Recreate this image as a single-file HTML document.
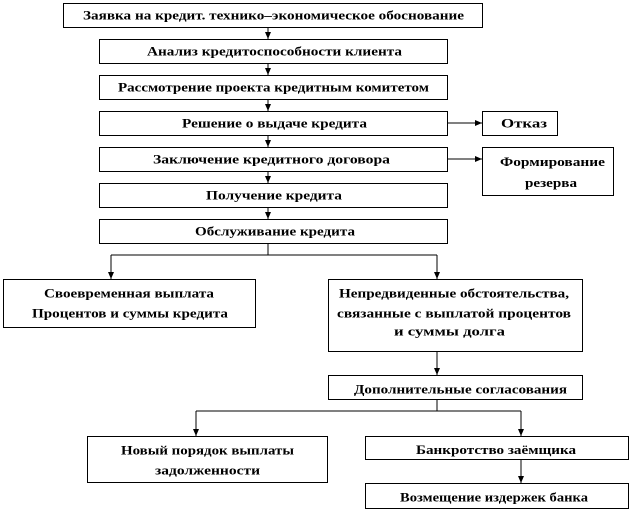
<!DOCTYPE html>
<html><head><meta charset="utf-8"><style>
html,body{margin:0;padding:0;background:#fff;}
svg{display:block}
text{font-family:"Liberation Serif",serif;font-weight:bold;font-size:13px;fill:#000}
rect{fill:#fff;stroke:#000;stroke-width:1}
line,polyline{stroke:#000;stroke-width:1;fill:none}
</style></head><body>
<svg width="630" height="510" viewBox="0 0 630 510">
<defs><marker id="a" markerWidth="8" markerHeight="8" refX="7" refY="4" orient="auto" markerUnits="userSpaceOnUse"><path d="M0,1 L7,4 L0,7 z" fill="#000"/></marker></defs>
<!-- connectors -->
<line x1="268" y1="27" x2="268" y2="39" marker-end="url(#a)"/>
<line x1="268" y1="63" x2="268" y2="75" marker-end="url(#a)"/>
<line x1="268" y1="99" x2="268" y2="111" marker-end="url(#a)"/>
<line x1="268" y1="135" x2="268" y2="147" marker-end="url(#a)"/>
<line x1="268" y1="171" x2="268" y2="183" marker-end="url(#a)"/>
<line x1="268" y1="207" x2="268" y2="219" marker-end="url(#a)"/>
<line x1="447" y1="123" x2="482" y2="123" marker-end="url(#a)"/>
<line x1="447" y1="159" x2="482" y2="159" marker-end="url(#a)"/>
<line x1="268" y1="243" x2="268" y2="255"/>
<line x1="111" y1="255" x2="437" y2="255"/>
<line x1="111" y1="255" x2="111" y2="279" marker-end="url(#a)"/>
<line x1="437" y1="255" x2="437" y2="279" marker-end="url(#a)"/>
<line x1="437" y1="351" x2="437" y2="375" marker-end="url(#a)"/>
<line x1="437" y1="399" x2="437" y2="411"/>
<line x1="196" y1="411" x2="521" y2="411"/>
<line x1="196" y1="411" x2="196" y2="436" marker-end="url(#a)"/>
<line x1="521" y1="411" x2="521" y2="436" marker-end="url(#a)"/>
<line x1="521" y1="459" x2="521" y2="483" marker-end="url(#a)"/>
<!-- boxes -->
<rect x="63.5" y="3.5" width="419" height="24"/>
<rect x="99.5" y="39.5" width="348" height="24"/>
<rect x="99.5" y="75.5" width="348" height="24"/>
<rect x="99.5" y="111.5" width="348" height="24"/>
<rect x="482.5" y="111.5" width="75" height="24"/>
<rect x="99.5" y="147.5" width="348" height="24"/>
<rect x="482.5" y="147.5" width="131" height="48"/>
<rect x="99.5" y="183.5" width="348" height="24"/>
<rect x="99.5" y="219.5" width="348" height="24"/>
<rect x="3.5" y="279.5" width="252" height="48"/>
<rect x="328.5" y="279.5" width="254" height="72"/>
<rect x="328.5" y="375.5" width="254" height="24"/>
<rect x="87.5" y="436.5" width="240" height="46"/>
<rect x="365.5" y="436.5" width="263" height="23"/>
<rect x="365.5" y="483.5" width="263" height="25"/>
<!-- text -->
<text x="83" y="19.5" textLength="381" lengthAdjust="spacingAndGlyphs">Заявка на кредит. технико–экономическое обоснование</text>
<text x="147" y="55.5" textLength="255" lengthAdjust="spacingAndGlyphs">Анализ кредитоспособности клиента</text>
<text x="118" y="91.5" textLength="311" lengthAdjust="spacingAndGlyphs">Рассмотрение проекта кредитным комитетом</text>
<text x="182" y="127.5" textLength="185" lengthAdjust="spacingAndGlyphs">Решение о выдаче кредита</text>
<text x="501" y="127.5" textLength="46" lengthAdjust="spacingAndGlyphs">Отказ</text>
<text x="153" y="163.5" textLength="237" lengthAdjust="spacingAndGlyphs">Заключение кредитного договора</text>
<text x="500" y="166" textLength="105" lengthAdjust="spacingAndGlyphs">Формирование</text>
<text x="525" y="187" textLength="52" lengthAdjust="spacingAndGlyphs">резерва</text>
<text x="206" y="199.5" textLength="136" lengthAdjust="spacingAndGlyphs">Получение кредита</text>
<text x="195" y="235.5" textLength="160" lengthAdjust="spacingAndGlyphs">Обслуживание кредита</text>
<text x="44" y="297.5" textLength="170" lengthAdjust="spacingAndGlyphs">Своевременная выплата</text>
<text x="32" y="317.5" textLength="196" lengthAdjust="spacingAndGlyphs">Процентов и суммы кредита</text>
<text x="339" y="297.5" textLength="230" lengthAdjust="spacingAndGlyphs">Непредвиденные обстоятельства,</text>
<text x="337" y="317.5" textLength="234" lengthAdjust="spacingAndGlyphs">связанные с выплатой процентов</text>
<text x="394" y="335.5" textLength="111" lengthAdjust="spacingAndGlyphs">и суммы долга</text>
<text x="354" y="393.5" textLength="213" lengthAdjust="spacingAndGlyphs">Дополнительные согласования</text>
<text x="121" y="454.5" textLength="173" lengthAdjust="spacingAndGlyphs">Новый порядок выплаты</text>
<text x="155" y="474.5" textLength="105" lengthAdjust="spacingAndGlyphs">задолженности</text>
<text x="416" y="454" textLength="160" lengthAdjust="spacingAndGlyphs">Банкротство заёмщика</text>
<text x="400" y="501.5" textLength="188" lengthAdjust="spacingAndGlyphs">Возмещение издержек банка</text>
</svg>
</body></html>
